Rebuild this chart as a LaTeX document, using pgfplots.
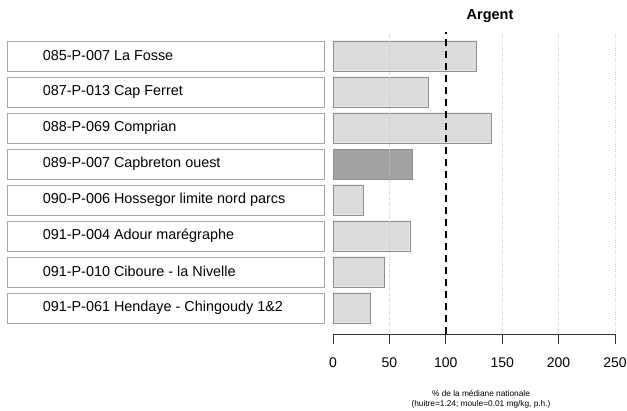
\documentclass[border=0pt]{standalone}
\usepackage{fontspec}
\setmainfont{Liberation Sans}
\usepackage{pgfplots}
\pgfplotsset{compat=1.18}
\definecolor{barlight}{HTML}{DCDCDE}
\definecolor{bardark}{HTML}{A2A2A4}
\definecolor{baredge}{HTML}{8E8E8E}
\definecolor{boxedge}{HTML}{A6A6A6}
\definecolor{gridgray}{HTML}{C8C8C8}
\newcommand{\lbl}[1]{\hspace*{36pt}\makebox[281pt][l]{#1}}
\begin{document}
\begin{tikzpicture}
\path[use as bounding box] (0,0) rectangle (627pt,-410pt);
\begin{axis}[
  at={(333pt,-334pt)}, anchor=south west,
  scale only axis, width=282pt, height=302.3pt,
  xmin=0, xmax=250, ymin=0.27, ymax=8.667,
  axis lines*=left,
  y axis line style={draw=none},
  ytick style={draw=none},
  x axis line style={black!80, line width=0.8pt},
  xtick style={black!80, line width=0.8pt},
  tick align=outside, major tick length=10pt,
  xtick={0,50,...,250},
  ytick={1,...,8},
  yticklabels={
    \lbl{091-P-061 Hendaye - Chingoudy 1\&2},
    \lbl{091-P-010 Ciboure - la Nivelle},
    \lbl{091-P-004 Adour marégraphe},
    \lbl{090-P-006 Hossegor limite nord parcs},
    \lbl{089-P-007 Capbreton ouest},
    \lbl{088-P-069 Comprian},
    \lbl{087-P-013 Cap Ferret},
    \lbl{085-P-007 La Fosse}},
  yticklabel style={draw=boxedge, inner xsep=0pt, inner ysep=0pt,
    minimum height=30pt, anchor=east, xshift=1pt,
    font=\fontsize{14.4}{16}\selectfont},
  xticklabel style={font=\fontsize{14}{16}\selectfont, yshift=-10pt},
  /pgf/number format/assume math mode=true,
  extra x ticks={50,150,200,250},
  extra x tick labels={},
  extra x tick style={grid=major},
  major grid style={gridgray, dotted, thin},
  axis on top,
  title={Argent},
  title style={font=\fontsize{14.5}{16}\selectfont\bfseries,
    at={(rel axis cs:0.557,1)}, anchor=base, yshift=6.7pt},
  xlabel={\% de la médiane nationale\\(huitre=1.24; moule=0.01 mg/kg, p.h.)},
  xlabel style={font=\fontsize{8.3}{9.5}\selectfont, align=center,
    at={(rel axis cs:0.5,0)}, anchor=north, xshift=7pt, yshift=-53pt},
]
\addplot[xbar, bar width=30pt, bar shift=0pt, fill=barlight, draw=baredge]
  coordinates {(127,8) (84,7) (140,6) (26.5,4) (68,3) (45,2) (33,1)};
\addplot[xbar, bar width=30pt, bar shift=0pt, fill=bardark, draw=baredge]
  coordinates {(70,5)};
\addplot[black, line width=1.5pt, dash pattern=on 7pt off 5pt]
  coordinates {(100,0.27) (100,8.667)};
\end{axis}
\end{tikzpicture}
\end{document}
